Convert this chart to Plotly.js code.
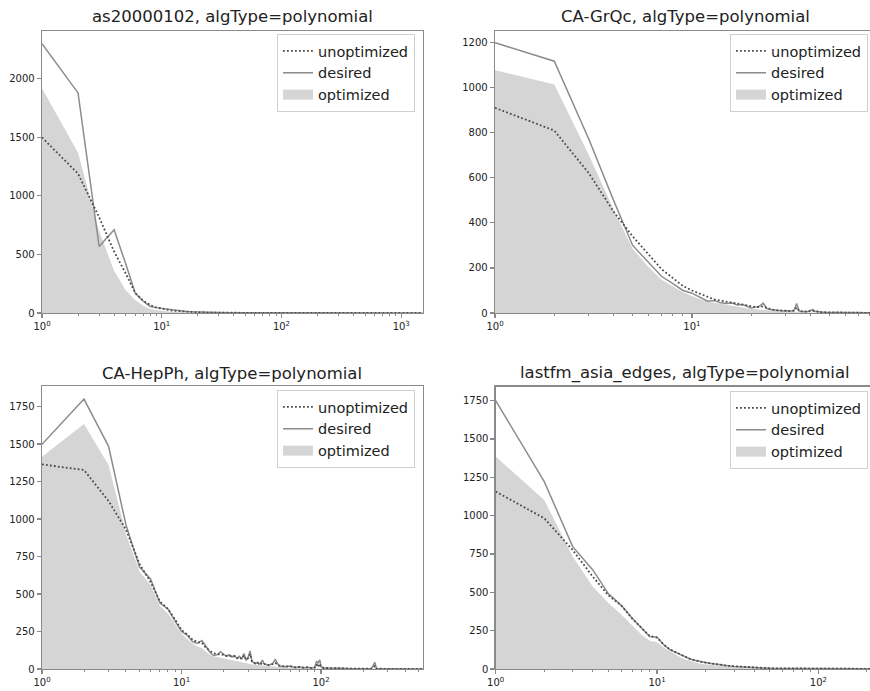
<!DOCTYPE html>
<html><head><meta charset="utf-8">
<script src="https://cdn.plot.ly/plotly-3.0.1.min.js"></script>
<style>html,body{margin:0;padding:0;overflow:hidden;background:#fff}</style>
</head><body><div id="chart" style="width:870px;height:691px"></div>
<script>
// ---------- as20000102 ----------
var titleAS = 'as20000102, algType=polynomial';
var xAS       = [1,2,3,4,5,6,7,8,9,10,11,12,13,14,15,16,18,20,23,26,30,35,40,50,60,80,100,150,200,300,500,800,1200,1500];
var unoptAS   = [1500,1190,818,525,338,172,105,68,47,36,28,22,18,15,12,10,8,6,4,3,2,2,1,1,1,0,0,0,0,0,0,0,0,0];
var desiredAS = [2300,1880,568,711,420,170,100,56,46,40,32,26,22,18,15,13,10,8,6,5,4,3,2,2,1,1,1,0,0,0,0,0,0,0];
var optAS     = [1920,1370,700,360,195,110,62,35,25,18,14,11,9,7,6,5,4,3,2,2,1,1,1,0,0,0,0,0,0,0,0,0,0,0];

// ---------- CA-GrQc ----------
var titleGR = 'CA-GrQc, algType=polynomial';
var xGR       = [1,2,3,4,5,6,7,8,9,10,11,12,13,14,15,16,17,18,19,20,21,22,23,24,25,26,27,28,29,30,31,32,33,34,35,36,37,38,39,40,41,42,43,44,45,48,52,56,60,65,70,75,80,90];
var unoptGR   = [911,810,620,450,340,260,195,155,120,100,85,70,60,55,50,45,40,36,32,30,27,26,30,22,17,14,12,12,10,10,8,9,10,25,9,7,7,6,7,10,11,8,6,5,4,3,3,2,2,1,1,1,0,0];
var desiredGR = [1200,1118,770,500,300,225,163,130,100,88,70,52,55,45,42,44,36,38,30,22,26,30,44,20,15,13,11,12,9,10,8,9,12,42,9,7,7,5,8,12,15,8,6,5,4,3,3,2,2,1,1,1,0,0];
var optGR     = [1078,1015,700,460,285,205,148,118,92,76,62,50,45,40,35,30,27,24,21,19,17,15,14,12,10,9,8,7,6,6,5,5,4,4,3,3,3,2,2,2,2,1,1,1,1,0,0,0,0,0,0,0,0,0];

// ---------- CA-HepPh ----------
var titleHP = 'CA-HepPh, algType=polynomial';
var xHP       = [1,2,3,4,5,6,7,8,9,10,11,12,13,14,15,16,17,18,19,20,21,22,23,24,25,26,27,28,29,30,31,32,33,34,35,36,37,38,39,40,42,45,47,50,55,60,65,70,75,80,85,90,93,95,98,100,105,110,120,130,150,170,200,230,243,250,300,350,400,540];
var unoptHP   = [1364,1327,1120,930,700,580,450,400,330,260,230,195,180,175,140,120,105,100,100,95,88,90,82,85,72,80,68,90,62,72,100,50,42,36,44,32,38,28,34,30,26,32,40,24,16,18,11,14,9,11,7,10,30,12,35,14,6,7,4,5,3,2,2,2,20,2,1,1,0,0];
var desiredHP = [1498,1800,1485,960,680,600,440,400,320,250,225,182,170,190,150,110,90,95,115,100,85,95,80,90,70,85,65,104,60,75,120,50,40,35,45,30,40,60,35,30,25,35,65,20,15,20,10,15,8,12,6,10,53,40,60,15,5,8,4,6,3,2,2,3,45,2,1,1,0,0];
var optHP     = [1415,1633,1360,900,650,560,420,370,300,235,200,170,150,140,115,95,85,80,75,70,65,60,55,52,48,45,42,40,38,35,33,30,28,26,25,23,22,20,19,18,16,14,13,11,9,8,7,6,5,5,4,4,4,4,3,3,3,2,2,2,1,1,1,1,1,1,0,0,0,0];

// ---------- lastfm_asia_edges ----------
var titleLF = 'lastfm_asia_edges, algType=polynomial';
var xLF       = [1,2,3,4,5,6,7,8,9,10,11,12,13,14,15,16,17,18,19,20,21,22,23,24,25,26,27,28,29,30,33,36,40,45,50,60,70,80,100,130,160,210,300];
var unoptLF   = [1157,983,776,602,480,415,330,270,215,205,160,128,110,92,77,66,58,50,45,42,38,35,31,28,26,24,22,20,19,18,14,11,9,7,5,4,3,2,1,1,0,0,0];
var desiredLF = [1750,1222,798,646,490,415,332,268,212,208,158,126,108,90,76,65,57,50,44,42,37,34,30,28,26,24,21,20,18,17,14,11,9,7,5,4,3,2,1,1,0,0,0];
var optLF     = [1385,1102,733,537,430,355,285,225,185,175,140,115,95,75,62,52,44,37,32,29,26,24,22,20,18,17,15,14,13,12,10,8,6,5,4,3,2,1,1,0,0,0,0];

var seriesNames = ['unoptimized', 'desired', 'optimized'];
var yTicksAS = [0,500,1000,1500,2000];
var yTicksGR = [0,200,400,600,800,1000,1200];
var yTicksHP = [0,250,500,750,1000,1250,1500,1750];
var xTickVals = [1,10,100,1000];
var xTickText = ['10<sup>0</sup>','10<sup>1</sup>','10<sup>2</sup>','10<sup>3</sup>'];

var W = 870, H = 691;
var minorVals = [];
for (var p = 0; p < 4; p++) for (var m = 2; m < 10; m++) minorVals.push(m * Math.pow(10, p));

var FONT = 'DejaVu Sans, sans-serif';
var SPINE = '#8a8a8a';
var FILL = '#d5d5d5';

function traces(x, un, de, op, n, legendId) {
  var xa = n === 1 ? 'x' : 'x' + n, ya = n === 1 ? 'y' : 'y' + n;
  return [
    {x: x, y: op, name: seriesNames[2], type: 'scatter', mode: 'lines', fill: 'tozeroy',
     fillcolor: FILL, line: {width: 0, color: FILL}, xaxis: xa, yaxis: ya,
     showlegend: false, hoverinfo: 'skip'},
    {x: x, y: de, name: seriesNames[1], type: 'scatter', mode: 'lines',
     line: {width: 1.5, color: '#8c8c8c'}, xaxis: xa, yaxis: ya, legend: legendId, legendrank: 2},
    {x: x, y: un, name: seriesNames[0], type: 'scatter', mode: 'lines',
     line: {width: 1.8, color: '#4a4a4a', dash: '1.8px,2.2px'}, xaxis: xa, yaxis: ya, legend: legendId, legendrank: 1},
    // legend swatch for the filled "optimized" area
    {x: [null], y: [null], name: seriesNames[2], type: 'scatter', mode: 'lines',
     line: {width: 11, color: FILL}, xaxis: xa, yaxis: ya, legend: legendId, legendrank: 3, hoverinfo: 'skip'}
  ];
}

function xaxis(px0, px1, rangeMax, anchor) {
  return {type: 'log', domain: [px0 / W, px1 / W], range: [0, rangeMax], anchor: anchor,
    showline: true, mirror: true, linecolor: SPINE, linewidth: 1.3, showgrid: false, zeroline: false,
    ticks: 'outside', ticklen: 4, tickcolor: SPINE, tickwidth: 1.1,
    tickmode: 'array', tickvals: xTickVals, ticktext: xTickText,
    tickfont: {size: 10, color: '#222', family: FONT},
    minor: {tickmode: 'array', tickvals: minorVals, ticks: 'outside', ticklen: 2, tickcolor: SPINE, tickwidth: 1, showgrid: false}};
}
function yaxis(py0, py1, rangeMax, ticks, anchor) {
  return {domain: [1 - py1 / H, 1 - py0 / H], range: [0, rangeMax], anchor: anchor,
    showline: true, mirror: true, linecolor: SPINE, linewidth: 1.3, showgrid: false, zeroline: false,
    ticks: 'outside', ticklen: 4, tickcolor: SPINE, tickwidth: 1.1,
    tickmode: 'array', tickvals: ticks,
    tickfont: {size: 10, color: '#222', family: FONT}};
}
function legendCfg(rightPx, topPx) {
  return {x: rightPx / W, xanchor: 'right', y: 1 - topPx / H, yanchor: 'top',
    bgcolor: 'rgba(255,255,255,0.85)', bordercolor: '#d0d0d0', borderwidth: 1,
    font: {size: 14.5, color: '#222', family: FONT}, itemwidth: 30, traceorder: 'normal'};
}
function title(text, cx, cy) {
  return {text: text, xref: 'paper', yref: 'paper', x: cx / W, y: 1 - cy / H,
    xanchor: 'center', yanchor: 'middle', showarrow: false,
    font: {size: 16.5, color: '#222', family: FONT}};
}

var data = [].concat(
  traces(xAS, unoptAS, desiredAS, optAS, 1, 'legend'),
  traces(xGR, unoptGR, desiredGR, optGR, 2, 'legend2'),
  traces(xHP, unoptHP, desiredHP, optHP, 3, 'legend3'),
  traces(xLF, unoptLF, desiredLF, optLF, 4, 'legend4')
);

var layout = {
  width: W, height: H, margin: {l: 0, r: 0, t: 0, b: 0},
  paper_bgcolor: '#fff', plot_bgcolor: '#fff',
  font: {family: FONT, color: '#222'},
  xaxis:  xaxis(42, 423, Math.log10(1520), 'y'),
  yaxis:  yaxis(31, 313, 2409, yTicksAS, 'x'),
  xaxis2: xaxis(495, 870, 1.904, 'y2'),
  yaxis2: yaxis(31, 313, 1252, yTicksGR, 'x2'),
  xaxis3: xaxis(42, 423, 2.731, 'y3'),
  yaxis3: yaxis(386, 669, 1887, yTicksHP, 'x3'),
  xaxis4: xaxis(495.7, 870, 2.32, 'y4'),
  yaxis4: yaxis(386.7, 669, 1841, yTicksHP, 'x4'),
  legend:  legendCfg(415, 34),
  legend2: legendCfg(868, 34),
  legend3: legendCfg(415, 390),
  legend4: legendCfg(868, 391),
  annotations: [
    title(titleAS, 232.5, 17),
    title(titleGR, 685, 17),
    title(titleHP, 232.5, 373),
    title(titleLF, 685, 373)
  ],
  showlegend: true
};

Plotly.newPlot('chart', data, layout, {displayModeBar: false, staticPlot: true});
</script></body></html>
